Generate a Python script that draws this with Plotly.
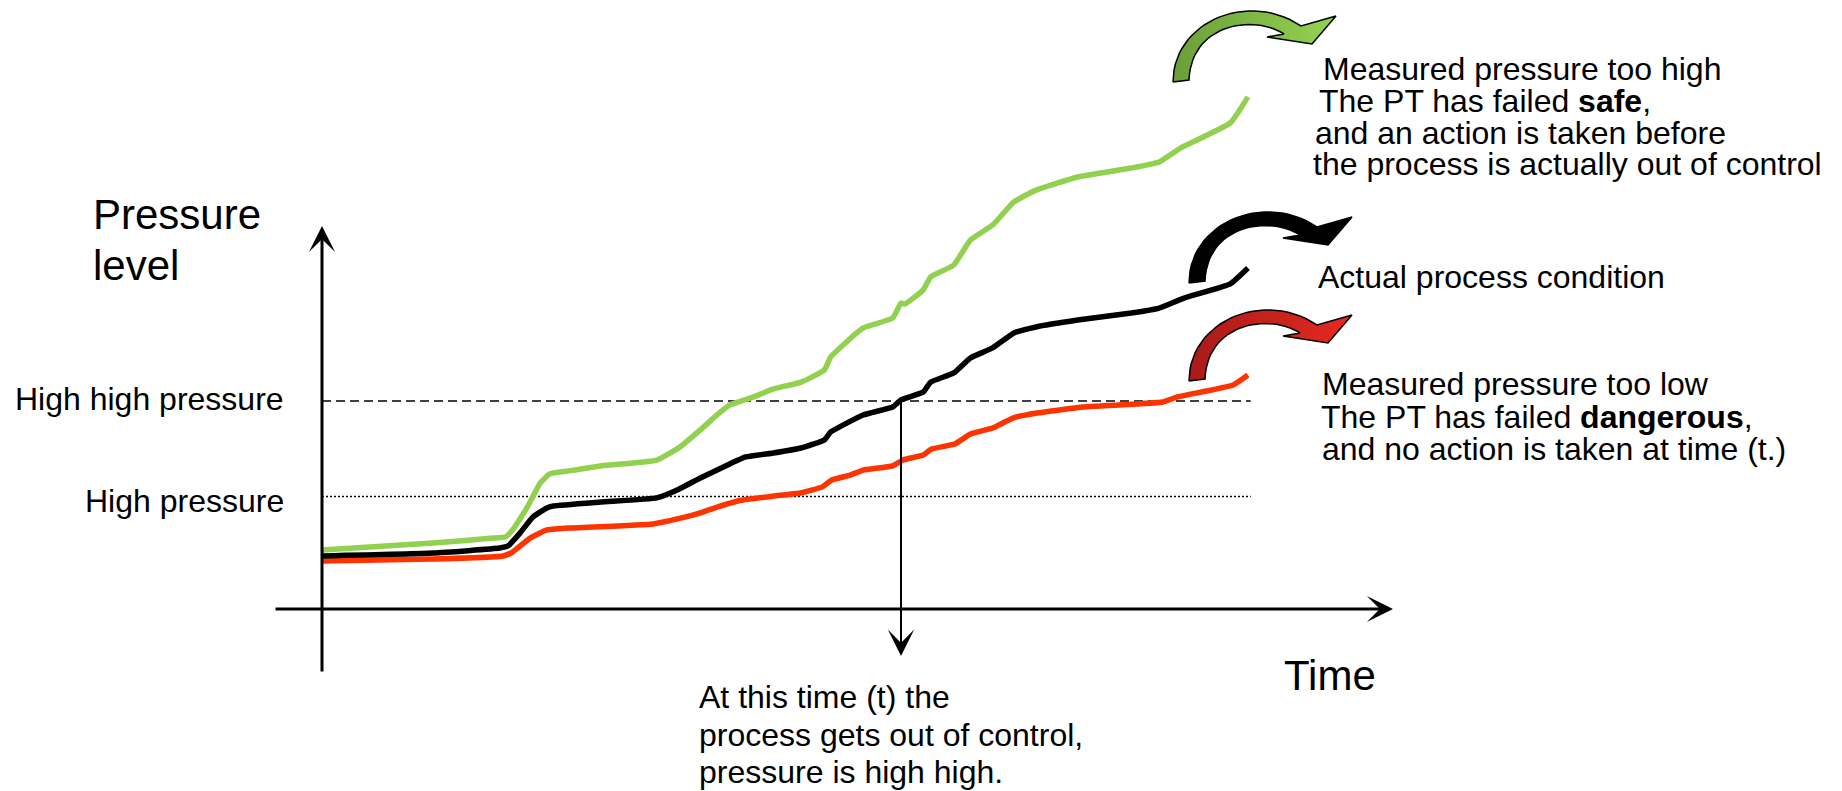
import numpy as np
import plotly.graph_objects as go

# ---------------- data (time: % of observed window, pressure: % of high-high level) -------------
time_green = [0, 12.0, 18.5, 19.8, 20.6, 22.2, 23.6, 24.6, 26.5, 30.1, 33.6, 36.2, 38.7, 40.9, 42.7,
              44.1, 46.6, 48.8, 51.8, 54.3, 55.0, 58.5, 61.7, 62.6, 63.0, 65.0, 65.8, 68.3, 70.1, 72.5,
              74.8, 77.2, 81.7, 87.5, 90.5, 92.8, 98.2, 100.1]
pressure_green = [28.4, 31.7, 34.1, 34.6, 38.0, 49.0, 60.6, 64.9, 66.3, 68.8, 70.2, 71.6, 77.9, 86.1, 93.3,
                  98.1, 101.9, 105.8, 109.1, 114.9, 121.2, 135.1, 139.9, 147.1, 146.6, 153.4, 159.6, 165.4,
                  177.4, 184.6, 195.7, 201.4, 207.7, 212.0, 214.9, 221.6, 233.7, 246.2]

time_black = [0, 12.0, 19.2, 20.1, 21.4, 22.8, 24.3, 25.0, 30.1, 36.2, 38.4, 40.9, 43.4, 45.8, 48.8, 51.8,
              54.3, 55.0, 58.5, 61.7, 62.6, 65.0, 65.8, 68.3, 70.1, 72.5, 74.8, 77.2, 81.7, 87.5, 90.5,
              93.2, 98.2, 100.1]
pressure_black = [25.5, 26.9, 29.3, 30.3, 36.5, 44.2, 48.6, 49.5, 51.4, 53.4, 57.2, 63.0, 68.3, 73.1, 75.0,
                  77.4, 81.3, 85.1, 93.3, 97.1, 100.5, 104.3, 109.1, 113.5, 120.7, 125.5, 132.7, 135.6,
                  138.9, 142.3, 144.7, 149.5, 156.3, 163.9]

time_red = [0, 12.0, 19.6, 20.6, 22.5, 24.3, 26.5, 35.8, 38.4, 40.9, 43.4, 45.5, 48.8, 51.7, 54.1, 55.1,
            57.1, 58.5, 61.7, 62.8, 65.0, 65.9, 68.4, 70.1, 72.5, 74.7, 77.3, 82.3, 88.1, 90.9, 92.4,
            98.5, 100.1]
pressure_red = [23.1, 24.0, 25.5, 27.4, 34.1, 38.0, 38.9, 40.9, 43.3, 46.2, 50.0, 52.4, 54.3, 55.8, 58.7,
                62.0, 64.4, 66.8, 68.8, 71.6, 74.0, 76.9, 79.3, 84.1, 87.0, 91.8, 94.2, 97.1, 98.6, 99.5,
                101.9, 107.7, 112.5]

HIGH_HIGH = 100.0
HIGH = 54.1
T_EVENT = 62.6
T_END = 100.4

# ---------------- layout calibration (pixels) -----------------------------------------------------
W, H = 1842, 791
X0, Y0 = 322.0, 609.0     # pixel of origin
SX, SY = 9.25, 2.08       # pixels per data unit


def tx(px):
    return (px - X0) / SX


def py(px):
    return (Y0 - px) / SY


FONT = "Liberation Sans, Arial, sans-serif"
GREEN = "#92D050"
RED = "#FF3300"

fig = go.Figure()

# threshold lines
fig.add_trace(go.Scatter(x=[0, T_END], y=[HIGH_HIGH, HIGH_HIGH], mode="lines",
                         line=dict(color="black", width=1.6, dash="9px,5px"), hoverinfo="skip"))
fig.add_trace(go.Scatter(x=[0, T_END], y=[HIGH, HIGH], mode="lines",
                         line=dict(color="black", width=1.6, dash="2px,2px"), hoverinfo="skip"))

# curves
LW = 5.5
fig.add_trace(go.Scatter(x=time_green, y=pressure_green, mode="lines", name="Measured (too high)",
                         line=dict(color=GREEN, width=LW, shape="spline", smoothing=0.4)))
fig.add_trace(go.Scatter(x=time_red, y=pressure_red, mode="lines", name="Measured (too low)",
                         line=dict(color=RED, width=LW, shape="spline", smoothing=0.4)))
fig.add_trace(go.Scatter(x=time_black, y=pressure_black, mode="lines", name="Actual",
                         line=dict(color="black", width=LW, shape="spline", smoothing=0.4)))


# curved block arrows (decorations)
def bez(p0, c1, c2, p3, n=30):
    t = np.linspace(0, 1, n)[:, None]
    p0, c1, c2, p3 = map(np.array, (p0, c1, c2, p3))
    return ((1 - t) ** 3) * p0 + 3 * ((1 - t) ** 2) * t * c1 + 3 * (1 - t) * t ** 2 * c2 + t ** 3 * p3


outer = bez((0, 0), (0, -60), (75, -92), (128, -56))
head = np.array([(163, -66), (139, -38), (94, -45), (111, -48)])
inner = bez((111, -48), (80, -68), (18, -58), (16, -2))
template = np.vstack([outer, head, inner, [(0, 0)]])


def curved_arrow(ax, ay, c1, c2, line_color="black"):
    xs = [tx(ax + d[0]) for d in template]
    ys = [py(ay + d[1]) for d in template]
    fig.add_trace(go.Scatter(x=xs, y=ys, mode="lines", fill="toself",
                             fillgradient=dict(type="horizontal", colorscale=[[0, c1], [1, c2]]),
                             line=dict(color=line_color, width=1.5), hoverinfo="skip"))


curved_arrow(1173, 82, "#6A9E38", "#95D353")
curved_arrow(1189, 283, "#000000", "#000000")
curved_arrow(1189, 381, "#A81A1A", "#E62A20")

annotations = []


def arrow(x, y, axp, ayp, width, size):
    annotations.append(dict(x=tx(x), y=py(y), ax=tx(axp), ay=py(ayp), xref="x", yref="y",
                            axref="x", ayref="y", text="", showarrow=True, arrowhead=3,
                            arrowwidth=width, arrowsize=size, arrowcolor="black", standoff=0))


arrow(322, 226, 322, 673, 3, 1.45)       # pressure axis
arrow(1393, 609, 274, 609, 3, 1.45)      # time axis
arrow(901, 656, 901, 401, 2, 2.2)        # event time marker


def label(text, x, cy, size=32, anchor="left"):
    annotations.append(dict(x=tx(x), y=py(cy), xref="x", yref="y", text=text, showarrow=False,
                            xanchor=anchor, yanchor="middle", borderpad=0,
                            font=dict(family=FONT, size=size, color="black")))


label("Pressure", 92, 214.7, 42)
label("level", 92, 265.4, 42)
label("Time", 1283, 675.4, 42)
label("High high pressure", 285, 399, anchor="right")
label("High pressure", 285, 500.6, anchor="right")

block1 = ["Measured pressure too high", "The PT has failed <b>safe</b>,",
          "and an action is taken before", "the process is actually out of control"]
for txt, x, cy in zip(block1, [1322, 1318, 1314, 1312], [69.4, 101.4, 132.9, 164.4]):
    label(txt, x, cy)

label("Actual process condition", 1317, 277)

block3 = ["Measured pressure too low", "The PT has failed <b>dangerous</b>,",
          "and no action is taken at time (t.)"]
for txt, x, cy in zip(block3, [1321, 1320, 1321], [384, 417, 449]):
    label(txt, x, cy)

block4 = ["At this time (t) the", "process gets out of control,", "pressure is high high."]
for txt, cy in zip(block4, [696.9, 734.9, 771.9]):
    label(txt, 698, cy)

fig.update_layout(
    width=W, height=H, margin=dict(l=0, r=0, t=0, b=0),
    paper_bgcolor="white", plot_bgcolor="white", showlegend=False,
    xaxis=dict(range=[tx(0), tx(W)], visible=False, fixedrange=True),
    yaxis=dict(range=[py(H), py(0)], visible=False, fixedrange=True),
    annotations=annotations,
)

fig.write_html("out.html", config={"displayModeBar": False},
               post_script="document.body.style.margin='0px';document.body.style.overflow='hidden';")
